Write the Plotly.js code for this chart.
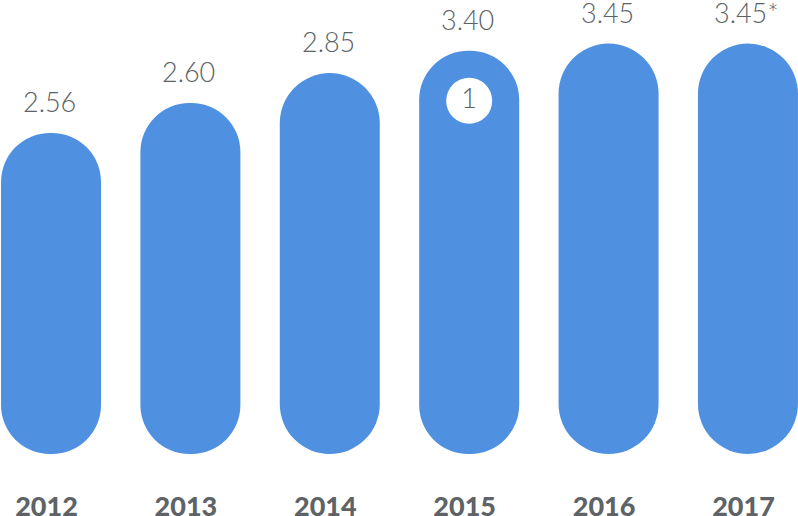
<!DOCTYPE html>
<html>
<head>
<meta charset="utf-8">
<script src="https://cdn.plot.ly/plotly-3.0.1.min.js"></script>
<style>
  html, body { margin: 0; padding: 0; background: #fff; }
  #chart { width: 798px; height: 516px; }
</style>
</head>
<body>
<div id="chart"></div>
<script>
// == data ==
const years = ['2012', '2013', '2014', '2015', '2016', '2017'];
const values = ['2.56', '2.60', '2.85', '3.40', '3.45', '3.45*'];
// drawn bar heights (graphic is not to scale), on a 0-10 scale
const barHeight = [7.07, 7.73, 8.39, 8.88, 9.04, 9.04];
const footnoteBar = 3;      // bar carrying the footnote badge
const footnoteText = '1';

const BLUE = '#4f91e0';
const GREY = '#5c6365';

// x range chosen so the bars sit where they sit in the picture
const xRange = [-0.366, 5.359];
const yRange = [0, 10];
const barWidth = 0.7174;
const plotH = 454;   // height of the plot area in px
const pxPerY = plotH / (yRange[1] - yRange[0]);
const pxPerX = 798 / (xRange[1] - xRange[0]);

function buildChart() {
    const xs = years.map((y, i) => i);
    const capR = (barWidth * pxPerX / 2) / pxPerY;   // cap radius in y units

    // bars with an explicit base get both ends rounded -> pill
    const pills = {
        type: 'bar',
        x: xs,
        base: barHeight.map(() => 0),
        y: barHeight,
        width: barWidth,
        marker: { color: BLUE, cornerradius: '50%', line: { width: 0 } },
        hoverinfo: 'skip',
    };

    // footnote badge sits in the centre of the top cap
    const badge = {
        type: 'scatter',
        mode: 'markers+text',
        x: [footnoteBar],
        y: [barHeight[footnoteBar] - capR],
        text: [footnoteText],
        textposition: 'middle center',
        textfont: { family: 'Lato', size: 27, color: GREY, weight: 300 },
        marker: { size: 46, color: '#ffffff', line: { width: 0 } },
        hoverinfo: 'skip',
        cliponaxis: false,
    };

    // value labels above the bars
    const annotations = values.map((v, i) => ({
        x: i,
        y: barHeight[i],
        xref: 'x',
        yref: 'y',
        text: v,
        showarrow: false,
        xanchor: 'center',
        yanchor: 'bottom',
        xshift: -1.5,
        yshift: 13,
        font: { family: 'Lato', size: 27, color: GREY, weight: 300 },
    }));

    // year labels sit a few px left of the bar centres in the picture
    const yearTicks = xs.map(i => i - 4.5 / pxPerX);

    const layout = {
        width: 798,
        height: 516,
        margin: { l: 0, r: 0, t: 0, b: 516 - plotH },
        paper_bgcolor: '#ffffff',
        plot_bgcolor: '#ffffff',
        showlegend: false,
        xaxis: {
            range: xRange,
            tickmode: 'array',
            tickvals: yearTicks,
            ticktext: years,
            showgrid: false,
            zeroline: false,
            showline: false,
            ticks: '',
            ticklabelstandoff: 34,
            tickfont: { family: 'Lato Black, Lato', size: 27, color: '#5d6366', weight: 900 },
            fixedrange: true,
        },
        yaxis: {
            range: yRange,
            visible: false,
            fixedrange: true,
        },
        annotations: annotations,
    };

    Plotly.newPlot('chart', [pills, badge], layout, { displayModeBar: false, staticPlot: true });
}

buildChart();
</script>
</body>
</html>
